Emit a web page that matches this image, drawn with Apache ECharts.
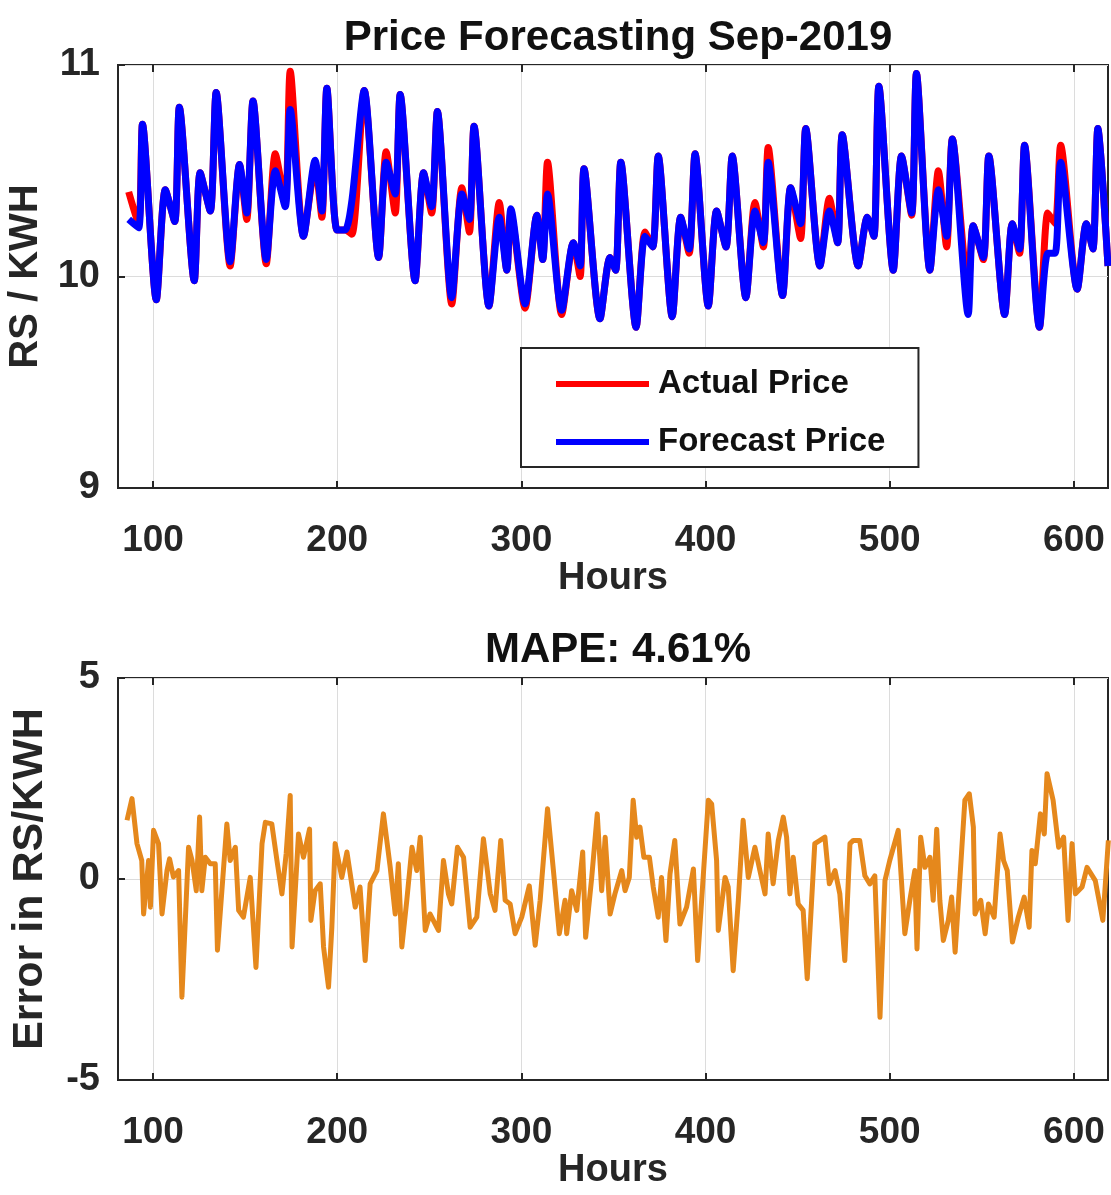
<!DOCTYPE html>
<html>
<head>
<meta charset="utf-8">
<title>Price Forecasting Sep-2019</title>
<script src="https://cdn.jsdelivr.net/npm/echarts@6/dist/echarts.min.js"></script>
<style>
    html, body { margin: 0; padding: 0; background: #fff; }
    #main { width: 1111px; height: 1195px; }
</style>
</head>
<body>
<div id="main"></div>
<script>
// hours where the price curves turn (peaks / troughs)
var priceHours = [86.8, 92.2, 94.3, 101.8, 106.7, 111.8, 114.3, 122.4, 125.6, 131.1, 134.3, 141.9, 147.0, 150.9, 154.3,
    161.5, 166.4, 171.8, 174.5, 181.7, 188.0, 191.7, 194.4, 199.9, 204.3, 208.0, 214.7, 222.5, 226.6, 231.5, 234.2,
    242.3, 246.9, 251.3, 254.4, 262.2, 267.7, 271.8, 274.3, 282.4, 288.0, 292.1, 294.3, 302.0, 308.4, 311.6, 314.2,
    321.9, 328.2, 331.9, 334.0, 342.7, 348.1, 351.2, 354.0, 362.3, 367.1, 371.3, 374.3, 381.9, 386.5, 391.1, 394.3,
    401.5, 406.0, 411.1, 414.5, 421.9, 426.8, 431.4, 434.0, 441.8, 446.2, 451.6, 454.4, 462.1, 467.2, 471.7, 474.2,
    482.9, 487.8, 491.4, 494.1, 501.9, 506.4, 511.9, 514.5, 521.8, 526.4, 530.9, 534.0, 542.6, 545.3, 550.8, 553.8,
    562.4, 566.5, 570.5, 573.2, 581.3, 585.8, 589.8, 592.8, 601.8, 606.7, 610.3, 613.0, 618.5];
var actualPrice = [10.40, 10.25, 10.72, 9.89, 10.41, 10.26, 10.80, 9.98, 10.49, 10.31, 10.87, 10.05, 10.53, 10.27, 10.83,
    10.06, 10.58, 10.35, 10.97, 10.19, 10.52, 10.28, 10.89, 10.22, 10.22, 10.20, 10.88, 10.09, 10.59, 10.30, 10.86,
    9.98, 10.49, 10.30, 10.78, 9.87, 10.42, 10.21, 10.71, 9.86, 10.35, 10.03, 10.30, 9.85, 10.29, 10.08, 10.54,
    9.82, 10.16, 10.00, 10.51, 9.80, 10.09, 10.03, 10.54, 9.76, 10.21, 10.14, 10.57, 9.81, 10.28, 10.11, 10.58,
    9.86, 10.31, 10.14, 10.57, 9.90, 10.35, 10.14, 10.61, 9.91, 10.42, 10.18, 10.70, 10.05, 10.37, 10.16, 10.67,
    10.05, 10.28, 10.19, 10.90, 10.03, 10.57, 10.29, 10.96, 10.03, 10.50, 10.14, 10.65, 9.95, 10.24, 10.08, 10.57,
    9.82, 10.25, 10.11, 10.62, 9.76, 10.30, 10.25, 10.62, 9.94, 10.25, 10.13, 10.70, 10.05];
var forecastPrice = [10.27, 10.23, 10.72, 9.89, 10.41, 10.26, 10.80, 9.98, 10.49, 10.31, 10.87, 10.07, 10.53, 10.30, 10.83,
    10.08, 10.50, 10.33, 10.79, 10.19, 10.55, 10.31, 10.89, 10.22, 10.22, 10.36, 10.88, 10.09, 10.54, 10.39, 10.86,
    9.98, 10.49, 10.33, 10.78, 9.90, 10.39, 10.27, 10.71, 9.86, 10.28, 10.03, 10.32, 9.87, 10.29, 10.08, 10.39,
    9.84, 10.16, 10.05, 10.51, 9.80, 10.09, 10.03, 10.54, 9.76, 10.19, 10.14, 10.57, 9.81, 10.28, 10.13, 10.58,
    9.86, 10.31, 10.14, 10.57, 9.90, 10.31, 10.16, 10.54, 9.91, 10.42, 10.25, 10.70, 10.05, 10.31, 10.16, 10.67,
    10.05, 10.28, 10.19, 10.90, 10.03, 10.57, 10.30, 10.96, 10.03, 10.41, 10.19, 10.65, 9.82, 10.24, 10.09, 10.57,
    9.82, 10.25, 10.13, 10.62, 9.76, 10.11, 10.11, 10.54, 9.94, 10.25, 10.13, 10.70, 10.05];

var errorHours = [85.9, 88.6, 91.3, 93.9, 94.9, 97.6, 98.6, 100.3, 103.0, 104.9, 107.6, 109.0, 111.1, 113.9, 115.7,
    119.3, 121.2, 123.5, 125.3, 126.5, 128.4, 131.1, 133.8, 135.0, 140.1, 141.9, 144.7, 146.5, 149.1, 152.8, 155.9,
    159.2, 161.0, 164.5, 167.3, 170.0, 172.3, 174.5, 175.5, 179.0, 181.7, 185.0, 185.7, 188.0, 190.8, 192.6, 195.3,
    197.1, 198.9, 202.5, 205.3, 209.8, 212.4, 215.2, 217.9, 221.6, 225.1, 228.8, 231.5, 233.2, 235.1, 237.8, 240.6,
    243.2, 245.1, 247.8, 250.4, 255.0, 257.7, 260.4, 262.2, 265.3, 268.6, 272.2, 275.8, 279.4, 283.1, 285.7, 288.8,
    291.2, 293.9, 296.6, 300.2, 304.3, 307.5, 310.2, 314.2, 317.4, 320.6, 323.7, 324.6, 327.3, 330.1, 333.3, 334.9,
    338.2, 341.2, 343.6, 345.5, 348.2, 350.8, 354.5, 356.3, 358.6, 360.7, 362.6, 364.4, 366.5, 369.5, 371.6, 374.3,
    376.1, 378.5, 380.7, 383.3, 386.1, 389.7, 393.4, 395.7, 398.7, 401.5, 403.3, 406.0, 406.9, 410.6, 412.3, 415.0,
    417.8, 420.4, 423.2, 426.8, 429.5, 432.3, 434.0, 436.7, 439.5, 442.2, 444.0, 445.8, 447.6, 450.3, 453.0, 455.2,
    457.6, 459.3, 462.1, 464.8, 467.2, 470.3, 472.9, 475.6, 478.4, 480.2, 483.7, 486.5, 489.2, 491.9, 494.7, 497.4,
    500.0, 504.6, 508.2, 510.9, 513.6, 514.8, 516.8, 519.1, 521.8, 523.6, 525.5, 527.2, 529.1, 531.8, 533.6, 535.5,
    537.8, 540.8, 543.2, 545.4, 546.3, 549.4, 551.8, 553.6, 556.7, 559.9, 561.8, 563.8, 566.6, 569.8, 573.0, 575.7,
    577.2, 579.0, 581.8, 583.9, 585.4, 588.7, 591.7, 594.4, 596.8, 599.0, 600.8, 604.4, 607.1, 611.6, 615.7, 618.7];
var errorValues = [1.46, 2.0, 0.88, 0.46, -0.87, 0.46, -0.70, 1.21, 0.88, -0.87, 0.21, 0.5, 0.05, 0.21, -2.94,
    0.79, 0.46, -0.29, 1.54, -0.29, 0.54, 0.38, 0.38, -1.77, 1.37, 0.46, 0.79, -0.78, -0.95, 0.04, -2.2,
    0.88, 1.41, 1.37, 0.46, -0.37, 0.63, 2.08, -1.69, 1.12, 0.54, 1.24, -1.03, -0.29, -0.12, -1.69, -2.69,
    -1.2, 0.88, 0.04, 0.67, -0.70, -0.2, -2.03, -0.12, 0.21, 1.62, 0.29, -0.87, 0.38, -1.69, -0.53, 0.79,
    0.21, 1.04, -1.28, -0.87, -1.28, 0.46, -0.37, -0.62, 0.79, 0.54, -1.2, -0.95, 1.0, -0.37, -0.78, 0.96,
    -0.53, -0.62, -1.36, -0.95, -0.17, -1.65, -0.53, 1.75, 0.21, -1.36, -0.53, -1.36, -0.29, -0.78, 0.67, -1.45,
    0.04, 1.62, -0.29, 1.04, -0.87, -0.37, 0.21, -0.29, 0.04, 1.96, 1.04, 1.29, 0.54, 0.54, -0.2, -0.95,
    0.04, -1.53, 0.13, 0.96, -1.12, -0.70, 0.25, -2.03, 0.04, 1.96, 1.87, 0.46, -1.28, 0.04, -0.2, -2.28,
    -0.53, 1.46, 0.04, 0.79, 0.21, -0.37, 1.12, -0.12, 0.96, 1.54, 1.04, -0.37, 0.54, -0.62, -0.78, -2.48,
    -0.53, 0.88, 0.96, 1.04, -0.12, 0.21, -0.37, -2.03, 0.88, 0.96, 0.96, 0.08, -0.12, 0.08, -3.44, -0.04,
    0.46, 1.21, -1.36, -0.53, 0.21, -1.74, 1.04, 0.29, 0.54, -0.53, 1.24, -0.53, -1.53, -1.03, -0.45, -1.82,
    -0.2, 1.96, 2.12, 1.29, -0.87, -0.53, -1.36, -0.62, -0.95, 1.12, 0.46, 0.21, -1.57, -0.95, -0.45, -1.2,
    0.71, 0.38, 1.62, 1.12, 2.62, 1.96, 0.79, 1.04, -1.03, 0.88, -0.37, -0.2, 0.29, -0.04, -1.03, 0.96];

var hourTicks = [100, 200, 300, 400, 500, 600];
var priceTicks = [9, 10, 11];
var errorTicks = [-5, 0, 5];

var FONT = "'Liberation Sans', Arial, Helvetica, sans-serif";
var INK = '#262626';

var chartUtil = {
    pairs: function(xs, ys) {
        var out = [];
        for (var i = 0; i < xs.length; i++) {
            out.push([xs[i], ys[i]]);
        }
        return out;
    },
    hourAxis: function(gridIndex, position, withLabels) {
        return {
            type: 'value',
            gridIndex: gridIndex,
            position: position,
            min: 81,
            max: 618.5,
            name: withLabels ? 'Hours' : '',
            nameLocation: 'middle',
            nameGap: 70,
            nameTextStyle: { fontFamily: FONT, fontWeight: 'bold', fontSize: 38, color: INK },
            axisLine: { show: withLabels, onZero: false, lineStyle: { color: INK, width: 2 } },
            axisTick: { show: true, inside: true, length: 7, customValues: hourTicks, lineStyle: { color: INK, width: 2 } },
            axisLabel: { show: withLabels, customValues: hourTicks, margin: 34, fontFamily: FONT, fontWeight: 'bold', fontSize: 37, color: INK },
            splitLine: { show: withLabels, lineStyle: { color: '#dcdcdc', width: 1 } }
        };
    },
    valueAxis: function(gridIndex, min, max, ticks, name, nameGap, nameSize) {
        return {
            type: 'value',
            gridIndex: gridIndex,
            min: min,
            max: max,
            interval: ticks[1] - ticks[0],
            name: name,
            nameLocation: 'middle',
            nameGap: nameGap,
            nameTextStyle: { fontFamily: FONT, fontWeight: 'bold', fontSize: nameSize, color: INK },
            axisLine: { show: true, onZero: false, lineStyle: { color: INK, width: 2 } },
            axisTick: { show: true, inside: true, length: 7, lineStyle: { color: INK, width: 2 } },
            axisLabel: { margin: 18, fontFamily: FONT, fontWeight: 'bold', fontSize: 38, color: INK },
            splitLine: { show: true, lineStyle: { color: '#dcdcdc', width: 1 } }
        };
    },
    lineSeries: function(name, xIdx, yIdx, data, color, width, smooth) {
        return {
            name: name,
            type: 'line',
            xAxisIndex: xIdx,
            yAxisIndex: yIdx,
            data: data,
            showSymbol: false,
            symbol: 'none',
            smooth: smooth,
            animation: false,
            clip: true,
            lineStyle: { color: color, width: width, join: 'round' },
            itemStyle: { color: color }
        };
    }
};

var chart = echarts.init(document.getElementById('main'));
chart.setOption({
    backgroundColor: '#ffffff',
    animation: false,
    title: [{
        text: 'Price Forecasting Sep-2019',
        left: 613,
        top: 12,
        textAlign: 'center',
        textStyle: { fontFamily: FONT, fontWeight: 'bold', fontSize: 42, color: '#111' }
    }, {
        text: 'MAPE: 4.61%',
        left: 613,
        top: 624,
        textAlign: 'center',
        textStyle: { fontFamily: FONT, fontWeight: 'bold', fontSize: 42, color: '#111' }
    }],
    legend: {
        data: ['Actual Price', 'Forecast Price'],
        orient: 'vertical',
        left: 521,
        top: 348,
        padding: [16, 33, 5, 35],
        itemGap: 18,
        itemWidth: 93,
        itemHeight: 6,
        icon: 'rect',
        backgroundColor: '#ffffff',
        borderColor: INK,
        borderWidth: 2,
        borderRadius: 0,
        textStyle: { fontFamily: FONT, fontWeight: 'bold', fontSize: 33, lineHeight: 40, color: '#111', padding: [0, 0, 0, 4] }
    },
    grid: [
        { left: 118, top: 65, width: 990, height: 423, show: true, outerBoundsMode: 'none', containLabel: false, borderColor: INK, borderWidth: 2, backgroundColor: 'transparent' },
        { left: 118, top: 678, width: 990, height: 402, show: true, outerBoundsMode: 'none', containLabel: false, borderColor: INK, borderWidth: 2, backgroundColor: 'transparent' }
    ],
    xAxis: [
        chartUtil.hourAxis(0, 'bottom', true),
        chartUtil.hourAxis(0, 'top', false),
        chartUtil.hourAxis(1, 'bottom', true),
        chartUtil.hourAxis(1, 'top', false)
    ],
    yAxis: [
        chartUtil.valueAxis(0, 9, 11, priceTicks, 'RS / KWH', 72, 40),
        chartUtil.valueAxis(1, -5, 5, errorTicks, 'Error in RS/KWH', 66, 43)
    ],
    series: [
        chartUtil.lineSeries('Actual Price', 0, 0, chartUtil.pairs(priceHours, actualPrice), '#ff0000', 7, 0.25),
        chartUtil.lineSeries('Forecast Price', 0, 0, chartUtil.pairs(priceHours, forecastPrice), '#0000ff', 7, 0.25),
        chartUtil.lineSeries('Error', 2, 1, chartUtil.pairs(errorHours, errorValues), '#e5881c', 5, false)
    ]
});
</script>
</body>
</html>
